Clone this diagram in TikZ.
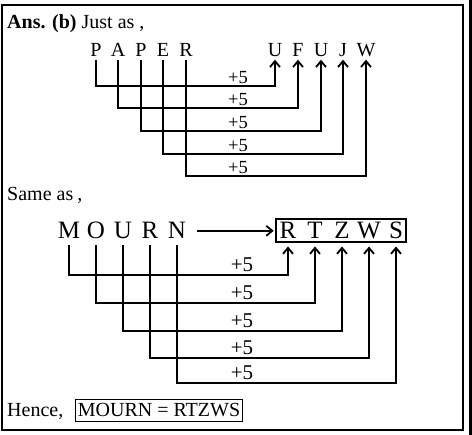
\documentclass[tikz,border=0pt]{standalone}
\usepackage{fontspec}
\setmainfont{Liberation Serif}
\usetikzlibrary{arrows.meta,fit}

\tikzset{
  textline/.style={inner sep=0pt, anchor=base west, font=\fontsize{20}{20}\selectfont},
  toprow/.style={inner sep=2.5pt, anchor=base, text depth=0pt, font=\fontsize{20}{20}\selectfont},
  botrow/.style={inner sep=2pt, anchor=base, text depth=0pt, font=\fontsize{25}{25}\selectfont},
  plusfive/.style={inner sep=0pt, font=\fontsize{18.5}{18.5}\selectfont},
  plusfivebig/.style={inner sep=0pt, font=\fontsize{21}{21}\selectfont},
  link/.style={line width=1.8pt, -{Straight Barb[length=6pt,width=10pt]}},
  linkbig/.style={link, shorten <=4pt, shorten >=3pt},
}

\begin{document}
\begin{tikzpicture}[x=1pt, y=-1pt]
\useasboundingbox (0,0) rectangle (472,435);

% the frame round the answer
\draw[line width=1.3pt] (2,5) rectangle (463,430);
\draw[line width=3pt] (470.5,0) -- (470.5,435);

% first example: PAPER gives UFUJW
\node[textline] (ans) at (7,29) {\textbf{Ans. (b)} Just as\hspace{5pt},};

\node[toprow] (p1) at (96,57)  {P};
\node[toprow] (p2) at (118,57) {A};
\node[toprow] (p3) at (141,57) {P};
\node[toprow] (p4) at (163,57) {E};
\node[toprow] (p5) at (186,57) {R};

\node[toprow] (u1) at (275,57) {U};
\node[toprow] (u2) at (298,57) {F};
\node[toprow] (u3) at (321,57) {U};
\node[toprow] (u4) at (343,57) {J};
\node[toprow] (u5) at (366,57) {W};

\coordinate (a1) at (238,86);
\coordinate (a2) at (238,108);
\coordinate (a3) at (238,131);
\coordinate (a4) at (238,154);
\coordinate (a5) at (238,176);

\draw[link] (p1.south) |- (a1) -| (u1.south); % P to U
\draw[link] (p2.south) |- (a2) -| (u2.south); % A to F
\draw[link] (p3.south) |- (a3) -| (u3.south); % P to U
\draw[link] (p4.south) |- (a4) -| (u4.south); % E to J
\draw[link] (p5.south) |- (a5) -| (u5.south); % R to W

\node[plusfive, above=2.5pt] (k1) at (a1) {+5};
\node[plusfive, above=2.5pt] (k2) at (a2) {+5};
\node[plusfive, above=2.5pt] (k3) at (a3) {+5};
\node[plusfive, above=2.5pt] (k4) at (a4) {+5};
\node[plusfive, above=2.5pt] (k5) at (a5) {+5};

% second example: MOURN gives RTZWS
\node[textline] (same) at (7,201) {Same as\hspace{4pt},};

\node[botrow] (m1) at (69,239)  {M};
\node[botrow] (m2) at (96,239)  {O};
\node[botrow] (m3) at (123,239) {U};
\node[botrow] (m4) at (150,239) {R};
\node[botrow] (m5) at (177,239) {N};

\node[botrow] (r1) at (288,239) {R};
\node[botrow] (r2) at (315,239) {T};
\node[botrow] (r3) at (342,239) {Z};
\node[botrow] (r4) at (369,239) {W};
\node[botrow] (r5) at (396,239) {S};
\node[draw, line width=2.2pt, inner sep=1.2pt, fit=(r1)(r5)] (box) {};

\draw[link, shorten <=9pt, shorten >=1.5pt] (m5.east) -- (m5.east -| box.west);

\coordinate (b1) at (242,275);
\coordinate (b2) at (242,303);
\coordinate (b3) at (242,331);
\coordinate (b4) at (242,358);
\coordinate (b5) at (242,383);

\draw[linkbig] (m1.south) |- (b1) -| (r1 |- box.south); % M to R
\draw[linkbig] (m2.south) |- (b2) -| (r2 |- box.south); % O to T
\draw[linkbig] (m3.south) |- (b3) -| (r3 |- box.south); % U to Z
\draw[linkbig] (m4.south) |- (b4) -| (r4 |- box.south); % R to W
\draw[linkbig] (m5.south) |- (b5) -| (r5 |- box.south); % N to S

\node[plusfivebig, above=3pt] (q1) at (b1) {+5};
\node[plusfivebig, above=3pt] (q2) at (b2) {+5};
\node[plusfivebig, above=3pt] (q3) at (b3) {+5};
\node[plusfivebig, above=3pt] (q4) at (b4) {+5};
\node[plusfivebig, above=3pt] (q5) at (b5) {+5};

% the result
\node[textline] (hence) at (7,417) {Hence,};
\node[draw, line width=0.9pt, inner xsep=2pt, inner ysep=4pt, anchor=base,
  font=\fontsize{20}{20}\selectfont] (res) at (159,417) {MOURN = RTZWS};

\end{tikzpicture}
\end{document}
